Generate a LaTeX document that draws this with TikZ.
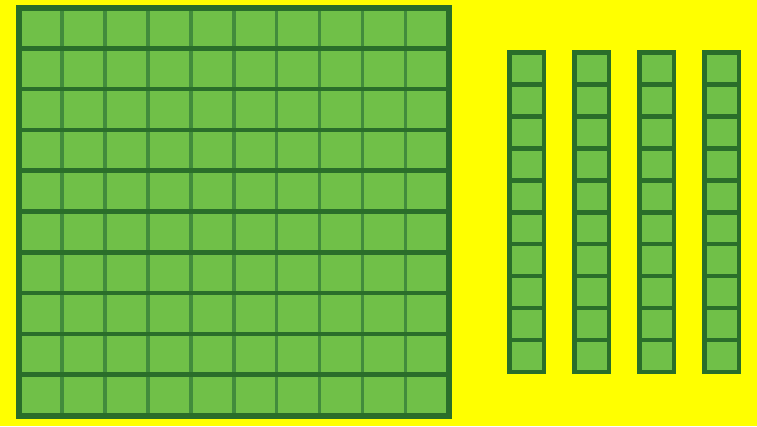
\documentclass[tikz,border=0pt]{standalone}
\definecolor{bgyellow}{RGB}{255,255,0}
\definecolor{blockfill}{RGB}{112,192,72}
\definecolor{blockdark}{RGB}{42,110,42}
\definecolor{blockmid}{RGB}{66,140,60}
\tikzset{
  darkline/.style={draw=blockdark, line width=4.5pt},
  midline/.style={draw=blockmid, line width=3.5pt},
  outerline/.style={draw=blockdark, line width=6pt, line join=miter},
}
\begin{document}
\begin{tikzpicture}[x=1pt,y=-1pt]
\fill[bgyellow] (0,0) rectangle (757,426);
\useasboundingbox (0,0) rectangle (757,426);
% hundred flat
\fill[blockfill] (19,7.5) rectangle (448.5,415.5);
\foreach \i in {1,...,9} {
  \draw[midline] ({19+\i*42.95},7.5) -- ({19+\i*42.95},415.5);
}
\foreach \j in {1,...,9} {
  \draw[darkline] (19,{7.5+\j*40.8}) -- (448.5,{7.5+\j*40.8});
}
\draw[outerline] (19,7.5) rectangle (448.5,415.5);
% four rods
\foreach \k in {0,1,2,3} {
  \pgfmathsetmacro{\xl}{509.5+\k*65}
  \fill[blockfill] (\xl,52.5) rectangle ({\xl+34.5},372);
  \foreach \j in {1,...,9} {
    \draw[darkline] (\xl,{52.5+\j*31.95}) -- ({\xl+34.5},{52.5+\j*31.95});
  }
  \draw[darkline] (\xl,52.5) rectangle ({\xl+34.5},372);
}
\end{tikzpicture}
\end{document}
